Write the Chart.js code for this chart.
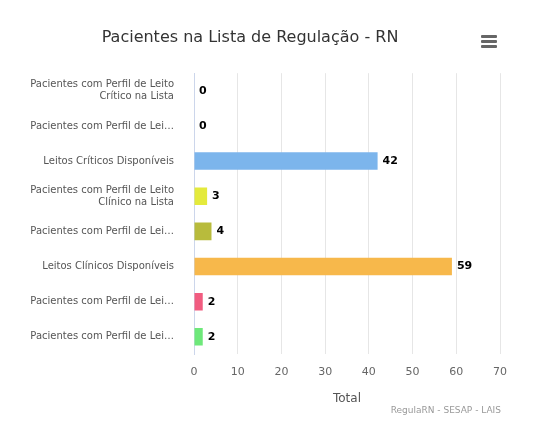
<!DOCTYPE html>
<html><head><meta charset="utf-8">
<script src="https://cdn.jsdelivr.net/npm/chart.js@4.4.0/dist/chart.umd.min.js"></script>
<style>
html,body{margin:0;padding:0;background:#fff;}
#wrap{position:relative;width:533px;height:440px;}
#menu{position:absolute;left:481px;top:35px;width:16px;}
#menu div{height:3px;background:#666;margin-bottom:2px;border-radius:1px;}
#credit{position:absolute;right:32px;top:405px;font:9px "DejaVu Sans",sans-serif;color:#999;}
</style></head><body>
<div id="wrap"><canvas id="c" width="533" height="440"></canvas>
<div id="menu"><div></div><div></div><div></div></div>
<div id="credit">RegulaRN - SESAP - LAIS</div></div>
<script>
const categories = [
 ["Pacientes com Perfil de Leito","Crítico na Lista"],
 "Pacientes com Perfil de Lei…",
 "Leitos Críticos Disponíveis",
 ["Pacientes com Perfil de Leito","Clínico na Lista"],
 "Pacientes com Perfil de Lei…",
 "Leitos Clínicos Disponíveis",
 "Pacientes com Perfil de Lei…",
 "Pacientes com Perfil de Lei…"
];
const values = [0, 0, 42, 3, 4, 59, 2, 2];
const colors = ["#7cb5ec","#434348","#7cb5ec","#e4ea3c","#b8bb3c","#f7b84b","#f15c80","#6ee87a"];
const xTicks = [0,10,20,30,40,50,60,70];

const labelPlugin = {
  id:'lbl',
  afterDatasetsDraw(chart){
    const ctx=chart.ctx, meta=chart.getDatasetMeta(0);
    ctx.save();
    ctx.font='bold 11px "DejaVu Sans", sans-serif';
    ctx.fillStyle='#000';ctx.textBaseline='middle';ctx.textAlign='left';
    meta.data.forEach((b,i)=>{ctx.fillText(String(values[i]), b.x+5, b.y);});
    ctx.restore();
  }
};
new Chart(document.getElementById('c'),{
  type:'bar',
  data:{labels:categories,datasets:[{data:values,backgroundColor:colors,barPercentage:0.5,categoryPercentage:1,borderWidth:0}]},
  options:{
    indexAxis:'y',responsive:false,animation:false,
    layout:{padding:{top:0,right:33,bottom:30,left:0}},
    plugins:{legend:{display:false},tooltip:{enabled:false},
      title:{display:true,text:'Pacientes na Lista de Regulação - RN',color:'#333',
        font:{family:'"DejaVu Sans", sans-serif',size:16,weight:'normal'},padding:{top:28,bottom:26}}},
    scales:{
      x:{min:0,max:70,afterBuildTicks(a){a.ticks=xTicks.map(v=>({value:v}));},
        grid:{color:'#e6e6e6',drawTicks:false},border:{display:false},
        ticks:{color:'#666',padding:11,font:{family:'"DejaVu Sans", sans-serif',size:11}},
        title:{display:true,text:'Total',color:'#555',padding:{top:2},font:{family:'"DejaVu Sans", sans-serif',size:12}}},
      y:{grid:{display:false},border:{color:'#ccd6eb'},
        afterFit(a){a.width=194;},
        ticks:{color:'#555',padding:12,font:{family:'"DejaVu Sans", sans-serif',size:10}}}
    }
  },
  plugins:[labelPlugin]
});
</script></body></html>
